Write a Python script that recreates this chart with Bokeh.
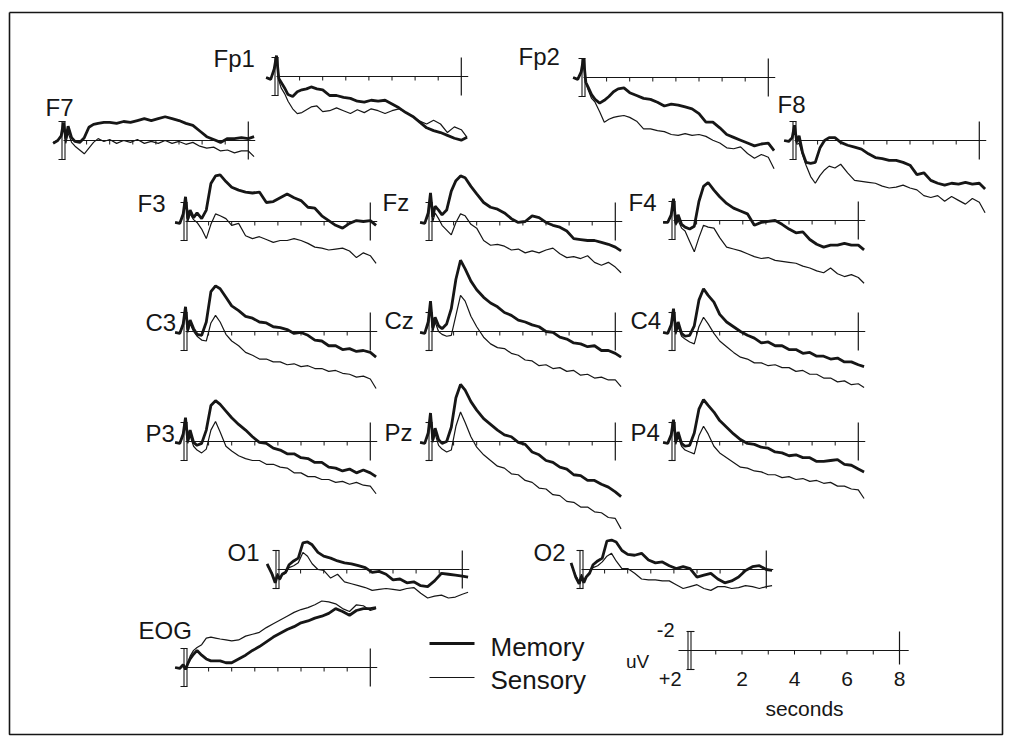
import numpy as np
from bokeh.plotting import figure
from bokeh.models import Range1d
from bokeh.embed import file_html
from bokeh.resources import INLINE
from bokeh.core.properties import value

# ---- data: time grid (s) and ERP amplitudes (uV, negative plotted up) ----
T = [-0.45, -0.25, -0.1, 0.0, 0.1, 0.2, 0.35, 0.5, 0.7, 0.9, 1.1, 1.3, 1.5, 1.75,
     2.0, 2.3, 2.6, 2.9, 3.2, 3.5, 3.8, 4.1, 4.4, 4.7, 5.0, 5.3, 5.6, 5.9, 6.2,
     6.5, 6.8, 7.1, 7.4, 7.7, 8.0, 8.25]

fp1_memory = [0.1, 0.3, -0.8, -2.2, 0.2, 0.6, 1.2, 1.9, 2.1, 1.6, 1.4, 1.3, 1.1, 1.3, 1.4, 2.0, 2.0, 2.2,
              2.3, 2.6, 2.7, 2.5, 2.6, 2.5, 2.9, 3.3, 3.8, 4.2, 4.8, 5.4, 5.7, 5.9, 6.2, 6.5, 6.7, 6.4]
fp1_sensory = [0.1, 0.3, -0.6, -1.8, 0.4, 1.2, 1.8, 2.6, 3.4, 3.9, 3.8, 3.5, 3.2, 3.1, 3.7, 3.6, 3.3, 3.6,
               3.9, 3.5, 3.8, 3.4, 3.6, 3.9, 3.6, 3.4, 3.8, 4.2, 4.7, 5.0, 4.6, 5.0, 5.9, 5.3, 5.6, 6.4]
fp2_memory = [0.0, 0.2, -0.6, -2.0, 0.5, 1.0, 1.8, 2.3, 2.7, 2.4, 2.0, 1.5, 1.2, 1.1, 1.6, 1.9, 2.2, 2.3,
              2.6, 3.0, 2.8, 2.9, 3.1, 3.3, 3.8, 4.7, 4.7, 5.3, 6.0, 6.3, 6.6, 6.9, 7.2, 7.0, 6.9, 7.7]
fp2_sensory = [0.0, 0.2, -0.5, -1.6, 0.6, 1.3, 2.2, 2.6, 3.6, 4.7, 4.4, 4.2, 4.1, 4.0, 4.2, 4.6, 5.4, 5.4,
               5.6, 5.7, 6.0, 6.1, 5.9, 6.1, 6.0, 6.2, 6.6, 6.9, 7.4, 7.5, 7.3, 8.0, 8.5, 8.1, 8.4, 9.6]
f7_memory = [0.3, 0.0, -0.5, -1.9, -0.2, -1.5, -0.3, 0.1, 0.2, -0.3, -1.4, -1.7, -1.8, -1.9, -1.9, -1.8,
             -2.0, -1.9, -2.1, -2.3, -2.1, -2.3, -2.5, -2.3, -2.1, -1.8, -1.6, -1.0, -0.4, -0.1, 0.2,
             -0.2, -0.2, -0.3, -0.2, -0.4]
f7_sensory = [0.2, 0.0, -0.4, -1.5, 0.3, -0.8, 0.2, 0.6, 1.0, 1.4, 0.8, 0.2, -0.2, 0.1, -0.1, 0.3, 0.0,
              0.2, -0.1, 0.3, 0.1, 0.3, 0.0, 0.3, 0.1, 0.4, 0.2, 0.6, 0.8, 0.7, 1.1, 1.0, 1.3, 1.1, 1.1, 1.7]
f8_memory = [0.0, 0.1, -0.3, -1.6, 0.2, -0.5, 1.3, 2.3, 2.4, 2.3, 0.8, 0.0, -0.3, -0.3, 0.2, 0.5, 0.7,
             0.9, 1.4, 1.8, 1.9, 2.1, 2.1, 2.3, 2.6, 3.6, 3.4, 4.2, 4.5, 4.7, 4.5, 4.6, 4.4, 4.6, 4.5, 5.1]
f8_sensory = [0.0, 0.1, -0.3, -1.4, 0.4, 0.3, 1.5, 2.6, 3.8, 4.5, 3.7, 3.1, 2.7, 2.9, 2.5, 3.4, 4.2, 4.3,
              4.4, 4.5, 4.8, 5.0, 4.9, 4.7, 5.0, 5.2, 5.8, 6.0, 5.8, 6.4, 5.9, 6.3, 6.7, 6.1, 6.5, 7.6]
f3_memory = [0.1, 0.2, -0.8, -2.6, -0.3, -1.2, -0.4, -0.9, -0.3, -1.2, -4.0, -4.8, -4.9, -4.2, -3.6, -3.3,
             -3.1, -3.0, -3.1, -2.0, -2.1, -2.5, -2.9, -2.5, -2.2, -1.5, -1.4, -0.6, -0.1, 0.4, 0.7, 0.2,
             -0.1, 0.0, -0.1, 0.4]
f3_sensory = [0.1, 0.2, -0.6, -2.2, 0.0, -0.8, -0.2, 0.1, 0.8, 1.8, 0.3, -0.8, -0.6, -0.3, 0.4, 0.2, 1.5,
              1.8, 1.6, 1.9, 2.2, 2.0, 2.0, 1.8, 2.0, 2.3, 2.7, 2.8, 3.0, 2.9, 2.8, 3.1, 3.8, 3.3, 3.6, 4.4]
fz_memory = [0.1, 0.2, -0.9, -3.0, -0.5, -1.6, -1.2, -0.7, -1.2, -3.2, -4.3, -4.8, -4.6, -3.7, -2.9, -2.0,
             -1.5, -1.3, -0.9, -0.3, 0.1, 0.0, -0.6, -0.4, 0.1, 0.4, 0.6, 1.0, 1.8, 1.9, 2.0, 2.0, 2.2,
             2.4, 2.7, 3.1]
fz_sensory = [0.1, 0.2, -0.6, -2.3, 0.0, -0.9, -0.3, 0.4, 0.9, 1.4, 0.1, -0.8, -0.6, 0.3, 0.7, 2.0, 2.5,
              2.4, 2.6, 3.0, 2.9, 3.3, 3.1, 3.3, 3.0, 2.8, 3.4, 3.8, 3.7, 3.9, 3.6, 4.3, 4.6, 4.3, 4.8, 5.4]
f4_memory = [0.2, 0.2, -0.6, -2.3, 0.3, -0.6, 0.4, 0.7, 0.9, 0.6, -2.0, -3.6, -4.0, -3.2, -2.5, -1.8,
             -1.3, -1.0, -0.7, 0.5, 0.2, 0.1, 0.0, 0.4, 0.9, 1.3, 1.2, 2.0, 2.5, 2.8, 2.6, 2.6, 2.4, 2.6,
             2.6, 3.1]
f4_sensory = [0.2, 0.2, -0.5, -2.0, 0.5, 0.0, 0.8, 1.1, 2.2, 3.3, 1.8, 0.5, 0.7, 0.8, 1.8, 2.8, 3.0, 3.2,
              3.5, 3.8, 4.0, 3.9, 4.2, 4.3, 4.4, 4.5, 4.8, 5.0, 5.3, 5.5, 5.0, 5.6, 5.9, 5.7, 6.0, 6.6]
c3_memory = [0.1, 0.2, -0.8, -2.6, -0.2, -1.2, -0.3, 0.3, 0.4, -1.0, -4.2, -4.8, -4.5, -3.6, -2.7, -2.2,
             -1.6, -1.4, -1.0, -0.9, -0.5, -0.4, -0.2, 0.2, 0.1, 0.4, 0.9, 1.0, 1.5, 1.5, 1.9, 1.8, 2.1,
             2.0, 2.2, 2.7]
c3_sensory = [0.1, 0.2, -0.6, -2.2, 0.1, -0.8, 0.0, 0.5, 0.9, 1.0, -0.9, -1.7, -1.0, 0.3, 1.0, 1.5, 2.2,
              2.5, 2.9, 2.9, 3.2, 3.2, 3.5, 3.4, 3.7, 3.6, 3.9, 3.9, 4.2, 4.1, 4.4, 4.5, 4.8, 4.7, 5.0, 6.0]
cz_memory = [0.1, 0.2, -1.0, -3.2, -0.4, -1.5, -0.6, -0.3, -0.8, -2.4, -5.5, -7.5, -6.6, -5.3, -4.4, -3.6,
             -3.0, -2.6, -2.0, -1.7, -1.2, -1.0, -0.7, -0.5, 0.0, 0.1, 0.6, 0.8, 1.2, 1.3, 1.6, 1.5, 2.0,
             2.0, 2.3, 2.7]
cz_sensory = [0.1, 0.2, -0.7, -2.5, 0.0, -1.0, 0.0, 0.3, 0.5, 0.4, -1.7, -3.8, -3.2, -1.6, -0.5, 0.6, 1.3,
              1.7, 1.8, 2.3, 2.5, 3.0, 3.1, 3.6, 3.5, 3.9, 3.8, 4.2, 4.1, 4.6, 4.5, 4.9, 4.8, 5.1, 5.1, 5.8]
c4_memory = [0.1, 0.2, -0.7, -2.4, 0.0, -1.0, 0.2, 0.5, 0.4, -0.6, -3.3, -4.5, -3.8, -3.1, -1.8, -1.0,
             -0.5, 0.0, 0.4, 0.7, 1.2, 1.1, 1.5, 1.5, 1.9, 1.9, 2.3, 2.2, 2.6, 2.6, 2.9, 2.8, 3.2, 3.2,
             3.5, 3.7]
c4_sensory = [0.1, 0.2, -0.6, -2.0, 0.3, -0.5, 0.5, 0.8, 1.1, 1.3, -0.5, -1.5, -0.8, 0.2, 1.0, 1.6, 2.2,
              2.7, 2.9, 3.3, 3.3, 3.6, 3.5, 3.8, 3.8, 4.2, 4.1, 4.5, 4.5, 4.9, 4.9, 5.3, 5.2, 5.6, 5.5, 5.9]
p3_memory = [0.1, 0.2, -0.8, -2.5, -0.1, -1.2, 0.1, 0.4, 0.2, -1.2, -3.8, -4.3, -3.9, -3.2, -2.5, -1.8,
             -1.2, -0.5, 0.1, 0.2, 0.7, 0.9, 1.3, 1.3, 1.7, 1.8, 2.2, 2.2, 2.7, 2.8, 3.1, 2.9, 3.3, 3.0,
             3.3, 3.7]
p3_sensory = [0.1, 0.2, -0.6, -2.2, 0.2, -0.6, 0.5, 0.9, 1.2, 0.8, -1.2, -2.1, -1.0, 0.5, 1.0, 1.5, 1.8,
              2.0, 2.0, 2.4, 2.4, 2.7, 2.8, 3.3, 3.3, 3.7, 3.7, 4.0, 4.0, 4.3, 4.2, 4.5, 4.3, 4.6, 4.7, 5.5]
pz_memory = [0.1, 0.2, -0.9, -3.0, -0.2, -1.4, -0.2, 0.2, 0.0, -1.5, -4.6, -6.0, -5.4, -4.2, -3.3, -2.4,
             -1.8, -1.2, -0.7, -0.5, 0.1, 0.3, 1.1, 1.4, 2.0, 2.2, 2.7, 2.9, 3.5, 3.6, 4.1, 4.1, 4.5,
             4.8, 5.3, 5.8]
pz_sensory = [0.1, 0.2, -0.7, -2.4, 0.1, -0.8, 0.4, 0.8, 1.1, 0.9, -1.6, -3.1, -2.0, -0.5, 0.6, 1.4, 2.0,
              2.6, 2.8, 3.4, 3.5, 4.1, 4.3, 4.9, 5.0, 5.6, 5.7, 6.3, 6.4, 6.9, 6.9, 7.4, 7.5, 8.0, 8.1, 9.2]
p4_memory = [0.1, 0.2, -0.7, -2.3, 0.0, -1.0, 0.2, 0.5, 0.4, -0.9, -3.4, -4.4, -3.8, -3.1, -2.2, -1.5,
             -0.8, -0.2, 0.2, 0.3, 0.6, 0.7, 1.1, 1.2, 1.5, 1.4, 1.7, 1.7, 2.1, 2.1, 2.0, 1.9, 2.4, 2.5,
             2.9, 3.2]
p4_sensory = [0.1, 0.2, -0.6, -2.0, 0.3, -0.5, 0.5, 0.9, 1.1, 1.3, -0.6, -1.6, -0.8, 0.5, 1.2, 1.7, 2.2,
              2.7, 2.8, 3.1, 3.2, 3.5, 3.5, 3.8, 3.7, 4.0, 3.9, 4.2, 4.1, 4.4, 4.3, 4.7, 4.7, 5.0, 5.1, 6.0]
o1_memory = [-0.6, 0.4, 1.4, 0.6, 1.0, 0.5, 0.3, -0.5, -0.9, -1.2, -2.8, -2.9, -2.6, -1.8, -1.4, -1.2,
             -0.9, -0.7, -0.6, -0.4, -0.2, 0.3, 0.2, 0.5, 1.1, 1.0, 1.4, 1.3, 1.7, 1.8, 1.2, 0.4, 0.5,
             0.6, 0.7, 0.8]
o1_sensory = [-0.4, 0.3, 1.2, 0.4, 1.1, 0.6, 0.4, -0.2, -0.4, -0.7, -1.8, -1.4, -0.6, 0.0, 0.1, 0.9, 0.5,
              1.3, 1.5, 1.7, 1.9, 2.2, 2.1, 2.0, 2.1, 2.2, 2.0, 1.9, 2.5, 3.0, 2.8, 2.7, 3.0, 2.9, 2.6, 2.4]
o2_memory = [-0.7, 0.8, 1.5, 0.7, 1.4, 0.8, 0.4, -0.5, -0.9, -1.2, -3.0, -3.1, -2.9, -2.0, -1.6, -1.5,
             -1.7, -1.0, -0.7, -0.8, -0.4, -0.1, -0.3, -0.1, 0.8, 0.6, 0.4, 1.0, 1.4, 1.2, 0.8, 0.1,
             -0.3, -0.4, 0.0, 0.1]
o2_sensory = [-0.5, 0.6, 1.3, 0.5, 1.2, 0.7, 0.3, -0.2, -0.4, -0.8, -1.4, -1.7, -0.9, -0.1, -0.1, 0.4, 1.0,
              1.1, 1.1, 1.2, 1.2, 1.6, 2.0, 1.8, 1.6, 2.0, 2.2, 1.8, 1.8, 2.0, 1.9, 1.7, 1.8, 2.0, 1.8, 1.7]
eog_memory = [0.0, 0.1, -0.3, 0.2, -0.4, -0.9, -1.4, -1.8, -1.3, -0.9, -0.7, -0.7, -0.7, -0.5, -0.5, -0.9,
              -1.3, -1.8, -2.2, -2.7, -3.2, -3.6, -4.0, -4.3, -4.7, -4.9, -5.2, -5.4, -5.7, -6.2, -5.9,
              -5.5, -6.0, -6.2, -6.2, -6.3]
eog_sensory = [0.0, 0.1, -0.3, 0.2, -0.5, -1.2, -1.8, -2.1, -2.4, -3.1, -3.2, -3.1, -3.0, -2.9, -2.8, -2.9,
               -3.3, -3.5, -3.7, -4.2, -4.6, -5.0, -5.4, -5.8, -6.1, -6.3, -6.6, -7.0, -6.9, -6.7, -6.2,
               -5.9, -6.6, -6.5, -6.0, -6.2]

channel_names = ["Fp1", "Fp2", "F7", "F8", "F3", "Fz", "F4", "C3", "Cz", "C4",
                 "P3", "Pz", "P4", "O1", "O2", "EOG"]
memory_series = [fp1_memory, fp2_memory, f7_memory, f8_memory, f3_memory, fz_memory, f4_memory,
                 c3_memory, cz_memory, c4_memory, p3_memory, pz_memory, p4_memory,
                 o1_memory, o2_memory, eog_memory]
sensory_series = [fp1_sensory, fp2_sensory, f7_sensory, f8_sensory, f3_sensory, fz_sensory, f4_sensory,
                  c3_sensory, cz_sensory, c4_sensory, p3_sensory, pz_sensory, p4_sensory,
                  o1_sensory, o2_sensory, eog_sensory]

legend_labels = ["Memory", "Sensory"]
scale_ticks = [2, 4, 6, 8]

# ---- layout (page pixel positions of each panel: onset x, baseline y, label x, label y) ----
panel_pos = {
    "Fp1": (276, 76, 213, 58), "Fp2": (583, 77, 518, 56),
    "F7": (63, 140, 45, 107), "F8": (794, 140, 777, 104),
    "F3": (185, 221, 137, 203), "Fz": (430, 221, 382, 202), "F4": (673, 220, 628, 202),
    "C3": (185, 331, 145, 322), "Cz": (430, 331, 384, 320), "C4": (673, 331, 630, 320),
    "P3": (185, 441, 145, 433), "Pz": (430, 441, 384, 432), "P4": (673, 441, 630, 432),
    "O1": (277, 569, 227, 552), "O2": (581, 569, 533, 552),
    "EOG": (185, 667, 138, 630),
}
SX = 23.1   # px per second in panels
SY = 9.5    # px per microvolt
INK = "#161616"
FONT = value("Liberation Sans")

p = figure(width=1011, height=743, x_range=Range1d(0, 1011), y_range=Range1d(743, 0),
           min_border=0, toolbar_location=None, output_backend="svg")
p.axis.visible = False
p.grid.visible = False
p.outline_line_color = None
p.background_fill_color = "white"
p.border_fill_color = "white"

# frame
p.line([9, 1002, 1002, 9, 9], [12, 12, 734, 734, 12], line_color=INK, line_width=1.6)

tarr = np.array(T)
for name, mem, sen in zip(channel_names, memory_series, sensory_series):
    bx, by, lx, ly = panel_pos[name]
    xs = bx + tarr * SX
    p.segment(x0=[bx], y0=[by], x1=[bx + 8.3 * SX], y1=[by], line_color=INK, line_width=1.1)
    tx = [bx + k * SX for k in range(1, 8)]
    p.segment(x0=tx, y0=[by] * 7, x1=tx, y1=[by + 4] * 7, line_color=INK, line_width=1)
    ex = bx + 8 * SX
    p.segment(x0=[ex], y0=[by - 2 * SY], x1=[ex], y1=[by + 2 * SY], line_color=INK, line_width=1.2)
    p.segment(x0=[bx - 1.5, bx + 1.5, bx - 5, bx - 5], y0=[by - 2 * SY, by - 2 * SY, by - 2 * SY, by + 2 * SY],
              x1=[bx - 1.5, bx + 1.5, bx + 2, bx + 2], y1=[by + 2 * SY, by + 2 * SY, by - 2 * SY, by + 2 * SY],
              line_color=INK, line_width=1.1)
    p.line(xs, by + np.array(sen) * SY, line_color=INK, line_width=1.2)
    p.line(xs, by + np.array(mem) * SY, line_color=INK, line_width=2.8)
    p.text(x=[lx], y=[ly], text=[name], text_font=FONT, text_font_size="24px",
           text_baseline="middle", text_align="left", text_color=INK)

# legend
p.segment(x0=[429], y0=[643], x1=[474], y1=[643], line_color=INK, line_width=2.8)
p.segment(x0=[429], y0=[677], x1=[474], y1=[677], line_color=INK, line_width=1.2)
p.text(x=[490, 490], y=[646, 679], text=legend_labels, text_font=FONT,
       text_font_size="26px", text_baseline="middle", text_align="left", text_color=INK)

# scale bar
SBX, SBY, SSX = 689, 650, 26.25
p.segment(x0=[SBX - 11], y0=[SBY], x1=[SBX + 8.35 * SSX], y1=[SBY], line_color=INK, line_width=1.1)
stx = [SBX + k * SSX for k in range(1, 8)]
p.segment(x0=stx, y0=[SBY] * 7, x1=stx, y1=[SBY + 4] * 7, line_color=INK, line_width=1)
p.segment(x0=[SBX + 8 * SSX], y0=[SBY - 19], x1=[SBX + 8 * SSX], y1=[SBY + 14], line_color=INK, line_width=1.2)
p.segment(x0=[SBX - 1.5, SBX + 1.5, SBX - 3, SBX - 3], y0=[SBY - 2 * SY, SBY - 2 * SY, SBY - 2 * SY, SBY + 2 * SY],
          x1=[SBX - 1.5, SBX + 1.5, SBX + 5, SBX + 5], y1=[SBY + 2 * SY, SBY + 2 * SY, SBY - 2 * SY, SBY + 2 * SY],
          line_color=INK, line_width=1.1)
p.text(x=[SBX + k * SSX for k in scale_ticks], y=[678] * 4, text=[str(k) for k in scale_ticks],
       text_font=FONT, text_font_size="21px", text_baseline="middle",
       text_align="center", text_color=INK)
p.text(x=[674, 681], y=[629, 678], text=["-2", "+2"], text_font=FONT,
       text_font_size="20px", text_baseline="middle", text_align="right", text_color=INK)
p.text(x=[637], y=[661], text=["uV"], text_font=FONT,
       text_font_size="19px", text_baseline="middle", text_align="center", text_color=INK)
p.text(x=[804], y=[708], text=["seconds"], text_font=FONT,
       text_font_size="21px", text_baseline="middle", text_align="center", text_color=INK)

open("out.html", "w").write(file_html(p, INLINE))
